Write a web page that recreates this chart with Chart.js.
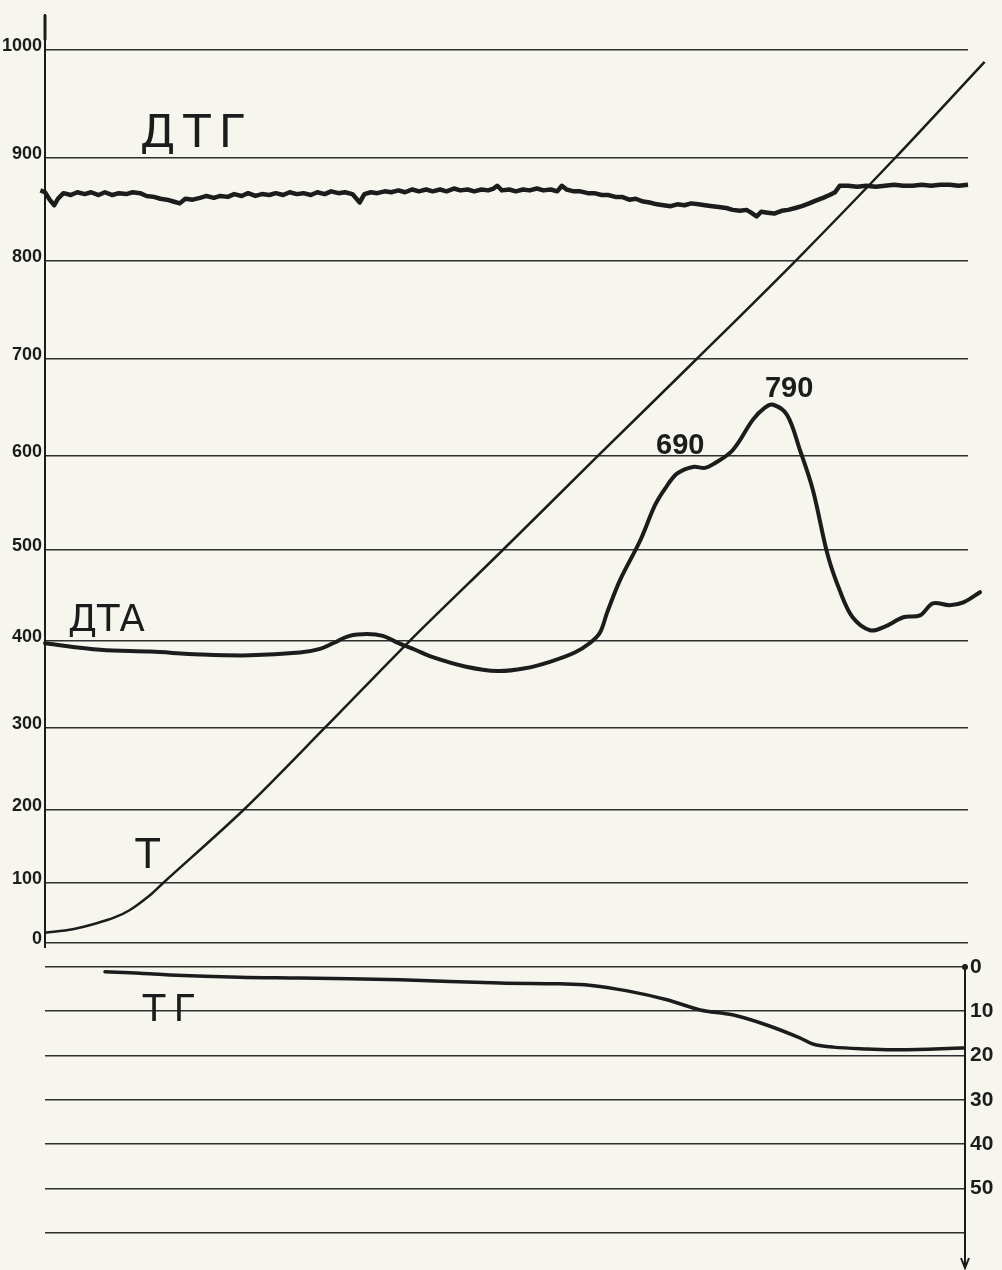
<!DOCTYPE html>
<html><head><meta charset="utf-8">
<script src="https://cdn.jsdelivr.net/npm/chart.js@4.4.1/dist/chart.umd.min.js"></script>
<style>
html,body{margin:0;padding:0;background:#f6f5ee;}
#wrap{position:relative;width:1002px;height:1270px;overflow:hidden;background:#f6f5ee;}
#top{position:absolute;left:0;top:0;width:1002px;height:955px;}
#bot{position:absolute;left:0;top:955px;width:1002px;height:315px;}
</style></head><body>
<div id="wrap">
<div id="top"><canvas id="c1"></canvas></div>
<div id="bot"><canvas id="c2"></canvas></div>
</div>
<script>
// ---------- DATA ----------
// time axis (arbitrary recorder units, 0..100 across the sheet)
// Temperature scale ticks (left axis, °C)
const tempTicks = [0,100,200,300,400,500,600,700,800,900,1000];
const tempTickLabels = ['0','100','200','300','400','500','600','700','800','900','1000'];
// TG scale ticks (right axis of lower panel, % mass loss)
const tgTicks = [0,10,20,30,40,50,60];
const tgTickLabels = ['0','10','20','30','40','50',''];

// T curve (temperature, °C)
const tX   = [0, 3.0, 5.6, 7.6, 9.2, 11.4, 12.8, 21.5, 30.3, 39.5, 49.6, 59.9, 70.6, 81.3, 92.1, 101.8];
const tVal = [17, 23, 33, 43, 55, 80, 100, 200, 300, 400, 500, 600, 700, 800, 900, 989];

// DTA curve (signal, arbitrary units 0..100)
const dtaX = [0, 6.0, 11.4, 16.8, 22.2, 27.6, 29.8, 31.2, 33.0, 34.9, 36.6, 38.1, 40.1, 42.0, 45.5, 49.0, 52.0, 54.7, 57.4, 59.0, 60.1, 60.9, 62.3, 64.5, 66.1, 67.2, 68.5, 70.2, 71.5, 72.4, 74.5, 76.7, 78.0, 78.9, 80.4, 81.8, 83.2, 84.8, 86.1, 87.5, 89.4, 91.0, 93.0, 94.8, 96.2, 98.0, 99.5, 101.3];
const dtaVal = [32.3, 31.6, 31.4, 31.1, 31.0, 31.3, 31.7, 32.3, 33.1, 33.3, 33.1, 32.4, 31.6, 30.8, 29.8, 29.3, 29.6, 30.3, 31.3, 32.3, 33.4, 35.6, 39.1, 43.4, 47.2, 49.0, 50.6, 51.3, 51.2, 51.6, 53.1, 56.4, 57.7, 58.0, 56.9, 53.1, 48.8, 41.8, 38.0, 35.1, 33.7, 34.1, 35.1, 35.3, 36.6, 36.4, 36.7, 37.8];

// DTG curve (signal, arbitrary units 0..100)
const dtgX = [-1.6, -1.1, -0.5, 0, 0.5, 1.0, 1.4, 2.0, 2.8, 3.5, 4.3, 5.0, 5.8, 6.5, 7.3, 8.0, 8.8, 9.5, 10.3, 11.0, 11.8, 12.5, 13.2, 13.9, 14.6, 15.2, 16.0, 16.8, 17.5, 18.3, 19.0, 19.8, 20.5, 21.3, 22.0, 22.8, 23.5, 24.3, 25.0, 25.8, 26.5, 27.3, 28.0, 28.8, 29.5, 30.3, 31.0, 31.8, 32.5, 33.3, 34.1, 34.6, 35.3, 36.0, 36.8, 37.5, 38.3, 39.0, 39.8, 40.5, 41.3, 42.0, 42.8, 43.5, 44.3, 45.0, 45.8, 46.5, 47.3, 48.0, 48.6, 49.0, 49.5, 50.3, 51.0, 51.8, 52.5, 53.3, 54.0, 54.8, 55.5, 56.0, 56.5, 57.3, 58.0, 58.8, 59.5, 60.3, 61.0, 61.8, 62.5, 63.3, 64.0, 64.8, 65.5, 66.3, 67.0, 67.8, 68.5, 69.3, 70.0, 70.8, 71.5, 72.3, 73.0, 73.8, 74.5, 75.3, 76.0, 76.5, 77.1, 77.6, 78.3, 79.0, 79.8, 80.5, 81.3, 82.0, 82.8, 83.5, 84.3, 85.0, 85.6, 86.1, 87.0, 88.0, 89.0, 90.0, 91.0, 92.0, 93.0, 94.0, 95.0, 96.0, 97.0, 98.0, 99.0, 100.0, 101.0];
const dtgVal = [80.1, 80.6, 81.1, 80.9, 80.1, 79.5, 80.2, 80.8, 80.6, 80.9, 80.7, 80.9, 80.6, 80.9, 80.6, 80.8, 80.7, 80.9, 80.8, 80.5, 80.4, 80.2, 80.1, 79.9, 79.7, 80.2, 80.1, 80.3, 80.5, 80.3, 80.5, 80.4, 80.7, 80.5, 80.8, 80.5, 80.7, 80.6, 80.8, 80.6, 80.9, 80.7, 80.8, 80.6, 80.9, 80.7, 81.0, 80.8, 80.9, 80.7, 79.8, 80.7, 80.9, 80.8, 81.0, 80.9, 81.1, 80.9, 81.2, 81.0, 81.2, 81.0, 81.2, 81.0, 81.3, 81.1, 81.2, 81.0, 81.2, 81.1, 81.3, 81.6, 81.1, 81.2, 81.0, 81.2, 81.1, 81.3, 81.1, 81.2, 81.0, 81.6, 81.2, 81.0, 81.0, 80.8, 80.8, 80.6, 80.6, 80.4, 80.4, 80.1, 80.2, 79.9, 79.8, 79.6, 79.5, 79.4, 79.6, 79.5, 79.7, 79.6, 79.5, 79.4, 79.3, 79.2, 79.0, 78.9, 79.0, 78.7, 78.3, 78.8, 78.7, 78.6, 78.9, 79.0, 79.2, 79.4, 79.7, 80.0, 80.3, 80.6, 80.9, 81.6, 81.6, 81.5, 81.6, 81.5, 81.6, 81.7, 81.6, 81.6, 81.7, 81.6, 81.7, 81.7, 81.6, 81.7, 81.7];

// TG curve (% mass loss)
const tgX   = [6.5, 10.3, 13.5, 21.1, 27.6, 38.5, 49.3, 55.8, 59.0, 63.1, 67.4, 71.0, 74.5, 78.2, 81.8, 83.2, 85.4, 89.1, 92.6, 99.5];
const tgVal = [1.1, 1.4, 1.8, 2.3, 2.5, 2.9, 3.6, 3.8, 4.1, 5.4, 7.4, 9.7, 10.8, 13.1, 16.0, 17.4, 18.1, 18.5, 18.7, 18.3];

// Text annotations (in data coordinates of each panel)
const topNotes = [
  {text:'ДТГ', x:10.3, y:85.8, size:45, spacing:8},
  {text:'ДТА', x:2.5, y:33.6, size:37, spacing:0},
  {text:'Т',   x:9.8, y:8.1,  size:40, spacing:0},
  {text:'690', x:66.2, y:52.7, size:29, spacing:0, bold:true},
  {text:'790', x:78.0, y:58.8, size:29, spacing:0, bold:true}
];
const botNotes = [
  {text:'ТГ', x:10.6, y:12.2, size:37, spacing:8}
];

// Thermocouple scale calibration (temperature -> fraction of axis height)
const thermoCal = {
  values:    [0, 100, 200, 300, 400, 500, 600, 700, 800, 900, 1000, 1032],
  fractions: [0, .0647, .1433, .2317, .3254, .4235, .5248, .6293, .7349, .8459, .9623, 1]
};

// ---------- STYLE ----------
const INK = '#1c1c1c';
const GRID = '#2f2f2f';

// ---------- custom non-linear temperature scale ----------
function calFrac(v){
  const V = thermoCal.values, F = thermoCal.fractions;
  if (v <= V[0]) return F[0] + (v - V[0]) * (F[1]-F[0])/(V[1]-V[0]);
  for (let i = 1; i < V.length; i++) {
    if (v <= V[i]) return F[i-1] + (v - V[i-1]) * (F[i]-F[i-1])/(V[i]-V[i-1]);
  }
  const n = V.length-1;
  return F[n] + (v - V[n]) * (F[n]-F[n-1])/(V[n]-V[n-1]);
}
function calVal(f){
  const V = thermoCal.values, F = thermoCal.fractions;
  for (let i = 1; i < F.length; i++) {
    if (f <= F[i]) return V[i-1] + (f - F[i-1]) * (V[i]-V[i-1])/(F[i]-F[i-1]);
  }
  return V[V.length-1];
}
class ThermoScale extends Chart.LinearScale {
  buildTicks(){
    this.start = this.min; this.end = this.max;
    return tempTicks.map(v => ({value: v}));
  }
  getPixelForValue(value){
    return this.bottom - calFrac(value) * (this.bottom - this.top);
  }
  getValueForPixel(pixel){
    return calVal((this.bottom - pixel) / (this.bottom - this.top));
  }
}
ThermoScale.id = 'thermo';
ThermoScale.defaults = {};
Chart.register(ThermoScale);

// ---------- plugins ----------
const notesPlugin = {
  id: 'notes',
  afterDatasetsDraw(chart, args, opts){
    const ctx = chart.ctx;
    const xs = chart.scales.x, ys = chart.scales[opts.axis];
    ctx.save();
    ctx.fillStyle = INK;
    ctx.textAlign = 'left';
    ctx.textBaseline = 'alphabetic';
    for (const n of opts.items) {
      ctx.font = (n.bold ? 'bold ' : '') + n.size + 'px ' + (n.bold ? '"Liberation Sans", Arial, sans-serif' : '"DejaVu Sans", sans-serif');
      if ('letterSpacing' in ctx) ctx.letterSpacing = n.spacing + 'px';
      ctx.fillText(n.text, xs.getPixelForValue(n.x), ys.getPixelForValue(n.y));
    }
    ctx.restore();
  }
};
const arrowPlugin = {
  id: 'arrow',
  afterDraw(chart, args, opts){
    const ctx = chart.ctx, a = chart.chartArea;
    ctx.save();
    ctx.strokeStyle = INK; ctx.fillStyle = INK; ctx.lineWidth = 2;
    if (opts.mode === 'bottom') {
      const x = a.right, y = a.bottom;
      ctx.beginPath(); ctx.moveTo(x-4, y-10); ctx.lineTo(x, y); ctx.lineTo(x+4, y-10); ctx.stroke();
      ctx.beginPath(); ctx.arc(x, a.top, 3, 0, Math.PI*2); ctx.fill();
    } else {
      ctx.lineWidth = 3;
      ctx.beginPath(); ctx.moveTo(a.left, a.top); ctx.lineTo(a.left, a.top + 25); ctx.stroke();
      ctx.lineWidth = 2;
      ctx.beginPath(); ctx.moveTo(a.left, a.bottom); ctx.lineTo(a.left, a.bottom + 5); ctx.stroke();
    }
    ctx.restore();
  }
};

const pts = (xs, ys) => xs.map((x, i) => ({x, y: ys[i]}));
const tickFont = {family:'"Liberation Sans", Arial, sans-serif', weight:'bold', size:18};
function noEdgePad(s){ s.paddingTop = 0; s.paddingBottom = 0; }

// ---------- top panel: T, DTA, DTG ----------
new Chart(document.getElementById('c1'), {
  type: 'line',
  data: {
    datasets: [
      {label:'T', data: pts(tX, tVal), yAxisID:'y', borderColor:INK, borderWidth:2.5, pointRadius:0, tension:0.3, clip:false},
      {label:'ДТА', data: pts(dtaX, dtaVal), yAxisID:'yd', borderColor:INK, borderWidth:4, pointRadius:0, tension:0.35, clip:false, borderCapStyle:'round', borderJoinStyle:'round'},
      {label:'ДТГ', data: pts(dtgX, dtgVal), yAxisID:'yd', borderColor:INK, borderWidth:4.5, pointRadius:0, tension:0, clip:false, borderJoinStyle:'round'}
    ]
  },
  options: {
    responsive:true, maintainAspectRatio:false, animation:false, devicePixelRatio:1,
    layout:{padding:{top:15, right:34, bottom:12, left:0}},
    plugins:{legend:{display:false}, tooltip:{enabled:false},
      notes:{axis:'yd', items: topNotes}, arrow:{mode:'top'}},
    scales:{
      x:{type:'linear', display:false, min:0, max:100},
      y:{type:'thermo', position:'left', min:0, max:1032,
        grid:{color:GRID, lineWidth:1.6, drawTicks:false},
        border:{display:true, color:INK, width:2},
        ticks:{autoSkip:false, padding:3, labelOffset:-4, color:INK, font:tickFont,
          callback:(v, i) => tempTickLabels[i]},
        afterFit(s){ s.width = 45; noEdgePad(s); }
      },
      yd:{type:'linear', display:false, min:0, max:100}
    }
  },
  plugins:[notesPlugin, arrowPlugin]
});

// ---------- bottom panel: TG ----------
new Chart(document.getElementById('c2'), {
  type: 'line',
  data: {
    datasets: [
      {label:'ТГ', data: pts(tgX, tgVal), borderColor:INK, borderWidth:3.5, pointRadius:0, tension:0.35, clip:false, borderCapStyle:'round'}
    ]
  },
  options: {
    responsive:true, maintainAspectRatio:false, animation:false, devicePixelRatio:1,
    layout:{padding:{top:12, right:0, bottom:2, left:45}},
    plugins:{legend:{display:false}, tooltip:{enabled:false},
      notes:{axis:'y', items: botNotes}, arrow:{mode:'bottom'}},
    scales:{
      x:{type:'linear', display:false, min:0, max:99.7},
      y:{type:'linear', position:'right', reverse:true, min:0, max:68,
        afterBuildTicks(s){ s.ticks = tgTicks.map(v => ({value:v})); },
        grid:{color:GRID, lineWidth:1.6, drawTicks:false},
        border:{display:true, color:INK, width:2},
        ticks:{autoSkip:false, padding:5, color:INK,
          font:{family:'"Liberation Sans", Arial, sans-serif', weight:'bold', size:21},
          callback:(v, i) => tgTickLabels[i]},
        afterFit(s){ s.width = 37; noEdgePad(s); }
      }
    }
  },
  plugins:[notesPlugin, arrowPlugin]
});
</script>
</body></html>
